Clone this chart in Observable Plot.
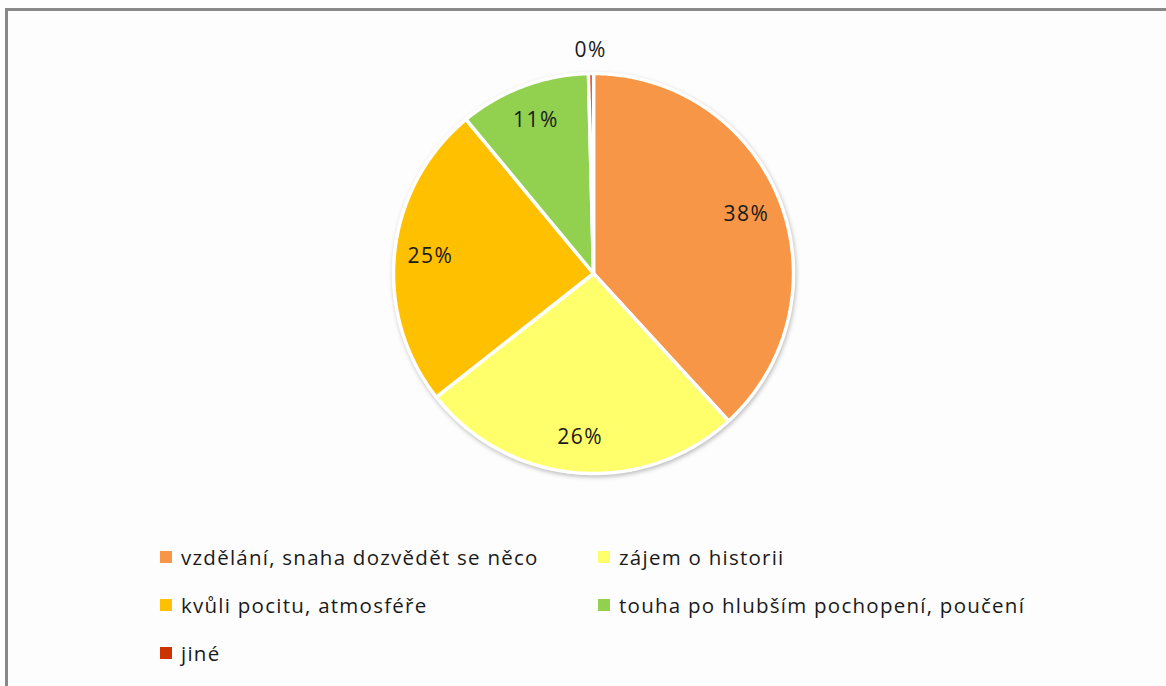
<!DOCTYPE html>
<html>
<head>
<meta charset="utf-8">
<script src="https://cdn.jsdelivr.net/npm/d3@7"></script>
<script src="https://cdn.jsdelivr.net/npm/@observablehq/plot@0.6"></script>
<style>
  html, body { margin: 0; padding: 0; background: #fdfdfd; width: 1166px; height: 686px; overflow: hidden; }
  #frame { position: absolute; left: 5px; top: 8px; width: 1200px; height: 720px; border: 3px solid #888; box-sizing: border-box; pointer-events: none; }
  #chart { position: absolute; left: 0; top: 0; }
  #chart svg g[aria-label="line"] { filter: drop-shadow(1px 2px 2px rgba(0,0,0,0.25)); }
  #chart svg g[aria-label="text"] text { letter-spacing: 1.5px; }
  #legend { position: absolute; left: 160px; top: 544px; display: grid; grid-template-columns: 438px auto; row-gap: 22px;
            font-family: "Open Sans", sans-serif; font-size: 20.5px; letter-spacing: 1.25px; color: #1a1a1a; }
  .item { display: flex; align-items: center; height: 26px; white-space: nowrap; }
  .sw { width: 12px; height: 12px; margin-right: 9px; flex: none; }
</style>
</head>
<body>
<div id="chart"></div>
<div id="legend"></div>
<div id="frame"></div>
<script>
const categories = ["vzdělání, snaha dozvědět se něco", "zájem o historii", "kvůli pocitu, atmosféře", "touha po hlubším pochopení, poučení", "jiné"];
const values = [38.2, 26.2, 24.6, 10.6, 0.4];
const colors = ["#F79646", "#FFFF6B", "#FFC000", "#92D050", "#CC3300"];

const W = 1166, H = 530;
const cx = 593, cy = 273, R = 200;

const arcs = d3.pie().sort(null).value((d, i) => values[i])(categories);

const polyPts = [];
const labels = [];
arcs.forEach((a, i) => {
  const cat = categories[i];
  polyPts.push({cat, x: 0, y: 0});
  const steps = Math.max(2, Math.ceil((a.endAngle - a.startAngle) / 0.01));
  for (let k = 0; k <= steps; k++) {
    const t = a.startAngle + (a.endAngle - a.startAngle) * k / steps;
    polyPts.push({cat, x: Math.sin(t), y: Math.cos(t)});
  }
  polyPts.push({cat, x: 0, y: 0});
  const mid = (a.startAngle + a.endAngle) / 2;
  const r = values[i] < 2 ? 1.115 : 0.82;
  labels.push({x: Math.sin(mid) * r, y: Math.cos(mid) * r, text: Math.round(values[i]) + "%"});
});

const plot = Plot.plot({
  width: W, height: H,
  margin: 0,
  x: {domain: [-cx / R, (W - cx) / R], axis: null},
  y: {domain: [(cy - H) / R, cy / R], axis: null},
  color: {domain: categories, range: colors},
  style: {background: "transparent"},
  marks: [
    Plot.line(polyPts, {x: "x", y: "y", z: "cat", fill: "cat", stroke: "white", strokeWidth: 3.5, strokeLinejoin: "miter", curve: "linear"}),
    Plot.text(labels, {x: "x", y: "y", text: "text", fill: "#1a1a1a", fontSize: 21, fontFamily: "'Open Sans', sans-serif"})
  ]
});
document.getElementById("chart").appendChild(plot);

const legend = document.getElementById("legend");
categories.forEach((c, i) => {
  const it = document.createElement("div");
  it.className = "item";
  const sw = document.createElement("span");
  sw.className = "sw";
  sw.style.background = colors[i];
  const tx = document.createElement("span");
  tx.textContent = c;
  it.appendChild(sw); it.appendChild(tx);
  legend.appendChild(it);
});
</script>
</body>
</html>
